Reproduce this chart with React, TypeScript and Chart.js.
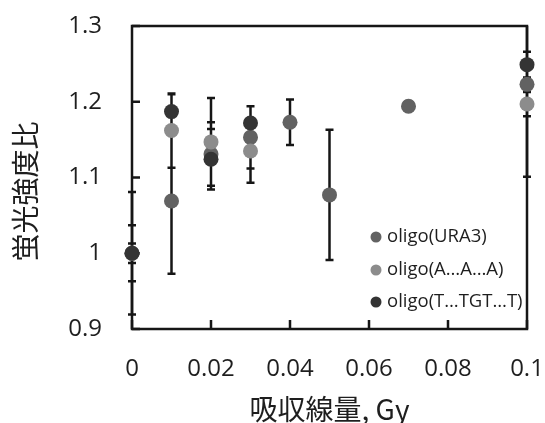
import React, { useEffect, useRef } from "react";
import { Chart, registerables } from "chart.js";

Chart.register(...registerables);

// ---- data ----
const xTicks = [0, 0.02, 0.04, 0.06, 0.08, 0.1];
const xTickLabels = ["0", "0.02", "0.04", "0.06", "0.08", "0.1"];
const yTicks = [0.9, 1.0, 1.1, 1.2, 1.3];
const yTickLabels = ["0.9", "1", "1.1", "1.2", "1.3"];

const seriesNames = ["oligo(URA3)", "oligo(A…A…A)", "oligo(T…TGT…T)"];
const seriesColors = ["#626262", "#8c8c8c", "#343434"];

const ura3X = [0, 0.01, 0.02, 0.03, 0.04, 0.05, 0.07, 0.1];
const ura3Y = [1.0, 1.069, 1.131, 1.153, 1.173, 1.077, 1.194, 1.223];
const ura3Err = [0.081, 0.096, 0.042, 0.041, 0.03, 0.086, 0.006, 0.122];

const aaaX = [0, 0.01, 0.02, 0.03, 0.1];
const aaaY = [1.0, 1.162, 1.147, 1.135, 1.197];
const aaaErr = [0.037, 0.049, 0.058, 0.042, 0.016];

const tgtX = [0, 0.01, 0.02, 0.03, 0.1];
const tgtY = [1.0, 1.187, 1.124, 1.172, 1.249];
const tgtErr = [0.013, 0.023, 0.04, 0.022, 0.017];

const xTitle = "吸収線量, Gy";
const yTitle = "蛍光強度比\u3000";

const seriesX = [ura3X, aaaX, tgtX];
const seriesY = [ura3Y, aaaY, tgtY];
const seriesErr = [ura3Err, aaaErr, tgtErr];

const INK = "#161616";

const decorPlugin = {
  id: "decor",
  beforeDatasetsDraw(chart: any) {
    const { ctx, chartArea } = chart;
    const xs = chart.scales.x;
    const ys = chart.scales.y;
    ctx.save();
    // frame
    ctx.strokeStyle = INK;
    ctx.lineWidth = 2.5;
    ctx.strokeRect(chartArea.left, chartArea.top, chartArea.right - chartArea.left, chartArea.bottom - chartArea.top);
    // inward ticks
    ctx.beginPath();
    ys.ticks.forEach((t: any) => {
      const y = ys.getPixelForValue(t.value);
      ctx.moveTo(chartArea.left, y);
      ctx.lineTo(chartArea.left + 8, y);
    });
    xs.ticks.forEach((t: any) => {
      const x = xs.getPixelForValue(t.value);
      ctx.moveTo(x, chartArea.bottom);
      ctx.lineTo(x, chartArea.bottom - 9);
    });
    ctx.stroke();
    // error bars
    ctx.beginPath();
    ctx.rect(chartArea.left - 10, chartArea.top, chartArea.right - chartArea.left + 20, chartArea.bottom - chartArea.top);
    ctx.clip();
    ctx.lineWidth = 2.5;
    ctx.beginPath();
    seriesX.forEach((xsArr, i) => {
      xsArr.forEach((xv, j) => {
        const x = xs.getPixelForValue(xv);
        const yTop = ys.getPixelForValue(seriesY[i][j] + seriesErr[i][j]);
        const yBot = ys.getPixelForValue(seriesY[i][j] - seriesErr[i][j]);
        ctx.moveTo(x, yTop);
        ctx.lineTo(x, yBot);
        ctx.moveTo(x - 4, yTop);
        ctx.lineTo(x + 4, yTop);
        ctx.moveTo(x - 4, yBot);
        ctx.lineTo(x + 4, yBot);
      });
    });
    ctx.stroke();
    ctx.restore();
  },
  afterDraw(chart: any) {
    const { ctx, chartArea } = chart;
    ctx.save();
    const cx = chartArea.right - 151;
    const rowYs = [chartArea.bottom - 92, chartArea.bottom - 59, chartArea.bottom - 27];
    ctx.font = "18.5px 'Open Sans'";
    ctx.textBaseline = "middle";
    ctx.textAlign = "left";
    seriesNames.forEach((name, i) => {
      ctx.fillStyle = seriesColors[i];
      ctx.beginPath();
      ctx.arc(cx, rowYs[i], 5.5, 0, Math.PI * 2);
      ctx.fill();
      ctx.fillStyle = "#1e1e1e";
      ctx.fillText(name, cx + 11, rowYs[i]);
    });
    ctx.restore();
  },
};

export default function App() {
  const ref = useRef<HTMLCanvasElement>(null);
  useEffect(() => {
    document.body.style.margin = "0";
    const canvas = ref.current;
    if (!canvas) return;
    const datasets = seriesNames.map((name, i) => ({
      label: name,
      data: seriesX[i].map((x, j) => ({ x, y: seriesY[i][j] })),
      backgroundColor: seriesColors[i],
      borderColor: seriesColors[i],
      borderWidth: 0,
      pointRadius: 7.5,
      pointHoverRadius: 7.5,
      showLine: false,
      clip: false as any,
      order: [2, 1, 0][i],
    }));
    const chart = new Chart(canvas, {
      type: "scatter",
      data: { datasets },
      options: {
        responsive: false,
        animation: false,
        layout: { autoPadding: false, padding: { top: 26, right: 18, left: 0, bottom: 0 } },
        plugins: { legend: { display: false }, tooltip: { enabled: false } },
        scales: {
          x: {
            type: "linear",
            min: 0,
            max: 0.1,
            grid: { display: false },
            border: { display: false },
            afterBuildTicks: (s: any) => {
              s.ticks = xTicks.map((v) => ({ value: v }));
            },
            afterFit: (s: any) => {
              s.height = 94;
              s.paddingLeft = 0;
              s.paddingRight = 0;
            },
            ticks: {
              padding: 18,
              color: "#1e1e1e",
              font: { family: "'Open Sans'", size: 24 },
              callback: (v: any) => xTickLabels[xTicks.findIndex((t) => Math.abs(t - v) < 1e-9)] ?? "",
              maxRotation: 0,
            },
            title: {
              display: true,
              text: xTitle,
              color: "#1e1e1e",
              font: { family: "'Noto Sans CJK JP'", size: 28, lineHeight: 1 },
              padding: { top: 0, bottom: 0 },
            },
          },
          y: {
            type: "linear",
            min: 0.9,
            max: 1.3,
            grid: { display: false },
            border: { display: false },
            afterBuildTicks: (s: any) => {
              s.ticks = yTicks.map((v) => ({ value: v }));
            },
            afterFit: (s: any) => {
              s.width = 132;
              s.paddingTop = 0;
              s.paddingBottom = 0;
            },
            ticks: {
              padding: 22,
              color: "#1e1e1e",
              font: { family: "'Open Sans'", size: 24 },
              callback: (v: any) => yTickLabels[yTicks.findIndex((t) => Math.abs(t - v) < 1e-9)] ?? "",
            },
            title: {
              display: true,
              text: yTitle,
              color: "#1e1e1e",
              font: { family: "'Noto Sans CJK JP'", size: 28, lineHeight: 1 },
              padding: { top: 11, bottom: 0 },
            },
          },
        },
      },
      plugins: [decorPlugin],
    });
    return () => chart.destroy();
  }, []);
  return <canvas ref={ref} width={545} height={423} style={{ display: "block" }} />;
}
